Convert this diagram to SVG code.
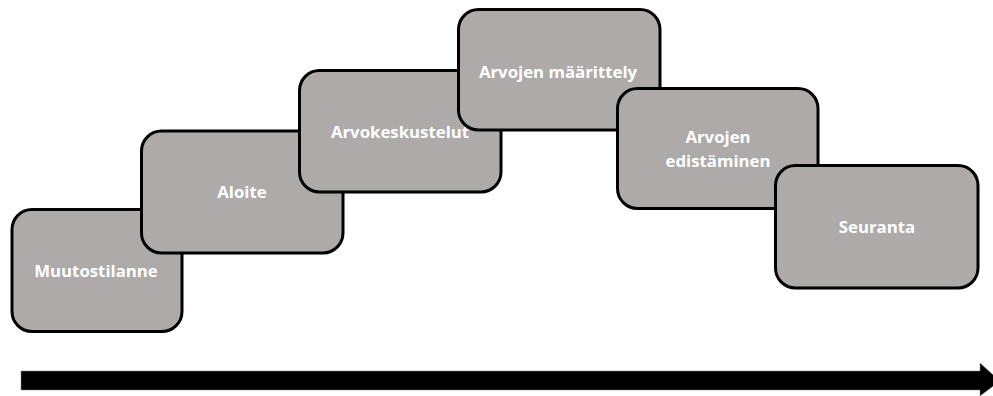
<svg xmlns="http://www.w3.org/2000/svg" width="993" height="396" viewBox="0 0 993 396">
<style>
.box{fill:#AEAAAA;stroke:#000;stroke-width:3}
.lbl{font-family:"Open Sans","Liberation Sans",sans-serif;font-weight:bold;font-size:16.8px;fill:#fff;text-anchor:middle}
</style>
<rect width="993" height="396" fill="#fff"/>
<g id="n1"><rect class="box" x="12" y="209.5" width="170" height="122" rx="20"/><text class="lbl" x="96" y="277">Muutostilanne</text></g>
<g id="n2"><rect class="box" x="141.5" y="131" width="201.5" height="122" rx="20"/><text class="lbl" x="242" y="198">Aloite</text></g>
<g id="n3"><rect class="box" x="299.5" y="70.5" width="201.5" height="121.5" rx="20"/><text class="lbl" x="400" y="138">Arvokeskustelut</text></g>
<g id="n4"><rect class="box" x="458.5" y="9.5" width="201.5" height="120.5" rx="20"/><text class="lbl" x="558" y="78">Arvojen määrittely</text></g>
<g id="n5"><rect class="box" x="617.5" y="88.5" width="200.5" height="120" rx="20"/><text class="lbl" x="718" y="143">Arvojen</text><text class="lbl" x="718" y="167">edistäminen</text></g>
<g id="n6"><rect class="box" x="775.5" y="165.5" width="202.5" height="122.5" rx="20"/><text class="lbl" x="877" y="233">Seuranta</text></g>
<g id="connectors"><polygon points="21,371 980,371 980,363 1000,381 980,396 980,390 21,390" fill="#000" stroke="#888" stroke-width="0.5"/></g>
</svg>
